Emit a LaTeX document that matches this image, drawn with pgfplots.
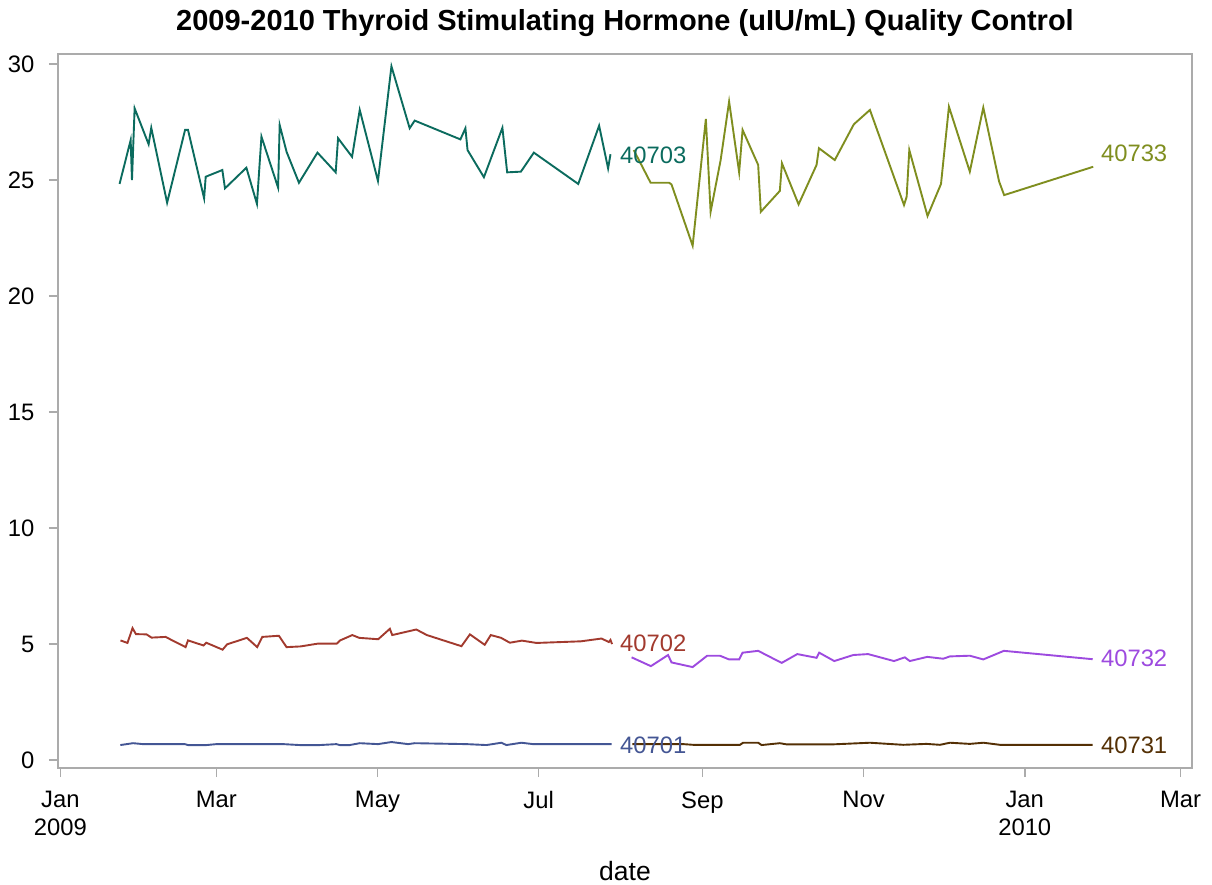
\documentclass[border=0pt]{standalone}
\usepackage{pgfplots}
\pgfplotsset{compat=1.18}
\usepackage{pgfplotstable}
\usepackage{fontspec}
\setmainfont{Liberation Sans}
\definecolor{axisgray}{HTML}{ABABAB}
\definecolor{cA}{HTML}{445694}
\definecolor{cB}{HTML}{A23A2E}
\definecolor{cC}{HTML}{0B6B5E}
\definecolor{cD}{HTML}{543005}
\definecolor{cE}{HTML}{9D4ADF}
\definecolor{cF}{HTML}{7F8E1F}
\newcommand{\tickfont}{\fontsize{23.8}{28}\selectfont}

\pgfplotstableread{
day val
22.7 0.65
27.5 0.73
31.3 0.69
47.1 0.69
48.3 0.65
55.3 0.65
59.1 0.69
84.3 0.69
90.6 0.65
98.2 0.65
104.5 0.69
105.7 0.65
109.5 0.65
113.3 0.73
120.2 0.69
125.3 0.78
131.6 0.69
134.1 0.73
153.7 0.69
161.3 0.65
166.9 0.75
168.8 0.65
174.5 0.75
178.9 0.69
208.6 0.69
}\tblA

\pgfplotstableread{
day val
22.75 5.16
25.4 5.05
27.3 5.69
28.6 5.43
32.6 5.42
34.5 5.28
39.8 5.31
47.4 4.87
48.3 5.16
54.2 4.94
55.2 5.06
61.4 4.76
63.1 4.99
70.6 5.27
74.5 4.87
76.4 5.31
82.7 5.36
85.6 4.87
90.9 4.90
97.4 5.02
104.6 5.02
105.9 5.16
110.5 5.39
113.1 5.27
120.3 5.21
124.7 5.66
125.6 5.39
134.7 5.63
138.7 5.39
151.8 4.91
155.0 5.42
160.6 4.97
162.9 5.39
166.8 5.27
170.1 5.06
174.7 5.15
180.2 5.05
197.0 5.12
204.8 5.24
207.6 5.09
208.2 5.18
208.8 5.00
}\tblB

\pgfplotstableread{
day val
22.4 24.83
26.6 26.72
27.1 25.00
28.1 28.09
33.4 26.54
34.4 27.25
40.4 24.02
47.2 27.16
48.3 27.16
54.4 24.21
55.0 25.14
61.3 25.43
62.3 24.64
70.4 25.53
74.4 23.97
76.1 26.87
82.4 24.67
83.0 27.37
85.6 26.22
90.3 24.88
97.3 26.18
104.2 25.33
105.1 26.80
110.4 26.00
113.3 28.02
120.2 24.96
125.3 29.90
132.2 27.23
134.1 27.56
151.4 26.75
153.3 27.23
154.1 26.29
160.3 25.12
167.3 27.25
169.1 25.33
174.3 25.36
179.2 26.18
196.0 24.83
203.9 27.34
207.3 25.50
208.2 26.11
}\tblC

\pgfplotstableread{
day val
216.5 0.69
235.7 0.69
239.5 0.66
257.2 0.66
258.4 0.75
264.1 0.75
265.4 0.65
272.3 0.73
274.8 0.68
287.5 0.68
292.5 0.68
306.4 0.75
319.0 0.66
327.8 0.70
332.9 0.66
336.7 0.75
344.2 0.70
349.3 0.75
355.6 0.66
390.7 0.66
}\tblD

\pgfplotstableread{
day val
216.2 4.43
223.5 4.05
230.0 4.53
231.3 4.21
239.3 4.01
244.8 4.50
249.6 4.50
253.1 4.34
256.9 4.34
258.2 4.63
264.1 4.71
273.0 4.19
278.9 4.57
286.2 4.41
287.2 4.63
292.9 4.27
300.1 4.53
305.7 4.57
315.5 4.27
319.6 4.43
321.5 4.27
328.1 4.45
334.1 4.37
336.7 4.47
344.2 4.50
349.3 4.34
357.1 4.71
390.7 4.35
}\tblE

\pgfplotstableread{
day val
217.0 26.29
223.4 24.88
230.4 24.88
231.3 24.81
239.3 22.17
244.3 27.63
246.1 23.63
249.9 25.86
253.1 28.38
256.9 25.33
258.2 27.16
264.1 25.65
265.1 23.63
272.3 24.53
273.1 25.72
279.4 23.95
286.2 25.65
287.1 26.37
293.1 25.86
300.3 27.40
306.4 28.02
319.3 23.92
320.3 24.28
321.3 26.29
328.2 23.45
333.3 24.83
336.3 28.16
344.2 25.36
349.3 28.12
355.3 24.93
357.2 24.35
390.9 25.57
}\tblF

\begin{document}
\begin{tikzpicture}
\begin{axis}[
  scale only axis,
  width=1134pt, height=714pt,
  xmin=-0.9, xmax=428.3,
  ymin=-0.34, ymax=30.43,
  clip=false,
  axis line style={draw=axisgray, line width=1.5pt},
  tick align=outside,
  tick pos=left,
  major tick length=9pt,
  tick style={draw=axisgray, line width=1.5pt},
  xtick={0,59,120,181,243,304,365,424},
  xticklabels={Jan\\2009,Mar,May,Jul,Sep,Nov,Jan\\2010,Mar},
  xticklabel style={align=center, font=\tickfont, text=black, yshift=-11pt},
  ytick={0,5,10,15,20,25,30},
  yticklabel style={font=\tickfont, text=black, xshift=-11pt},
  /pgf/number format/assume math mode=true,
  every axis plot/.append style={line width=1.9pt, no marks},
]
\addplot[cA] table[x=day,y=val] {\tblA};
\addplot[cB] table[x=day,y=val] {\tblB};
\addplot[cC] table[x=day,y=val] {\tblC};
\addplot[cD] table[x=day,y=val] {\tblD};
\addplot[cE] table[x=day,y=val] {\tblE};
\addplot[cF] table[x=day,y=val] {\tblF};

\node[anchor=west, inner sep=0pt, text=cC, font=\tickfont] at (axis cs:211.8,26.08) {40703};
\node[anchor=west, inner sep=0pt, text=cB, font=\tickfont] at (axis cs:211.8,5.04) {40702};
\node[anchor=west, inner sep=0pt, text=cA, font=\tickfont] at (axis cs:211.8,0.65) {40701};
\node[anchor=west, inner sep=0pt, text=cF, font=\tickfont] at (axis cs:393.8,26.16) {40733};
\node[anchor=west, inner sep=0pt, text=cE, font=\tickfont] at (axis cs:393.8,4.37) {40732};
\node[anchor=west, inner sep=0pt, text=cD, font=\tickfont] at (axis cs:393.8,0.63) {40731};

\node[font=\fontsize{29}{34}\selectfont\bfseries] at (rel axis cs:0.5,1) [yshift=31pt] {2009-2010 Thyroid Stimulating Hormone (uIU/mL) Quality Control};
\node[font=\fontsize{26.5}{30}\selectfont] at (rel axis cs:0.5,0) [yshift=-103pt] {date};

\coordinate (sw) at (rel axis cs:0,0);
\coordinate (ne) at (rel axis cs:1,1);
\end{axis}
\pgfresetboundingbox
\path ([xshift=-58pt,yshift=-116pt]sw) rectangle ([xshift=20pt,yshift=54pt]ne);
\end{tikzpicture}
\end{document}
